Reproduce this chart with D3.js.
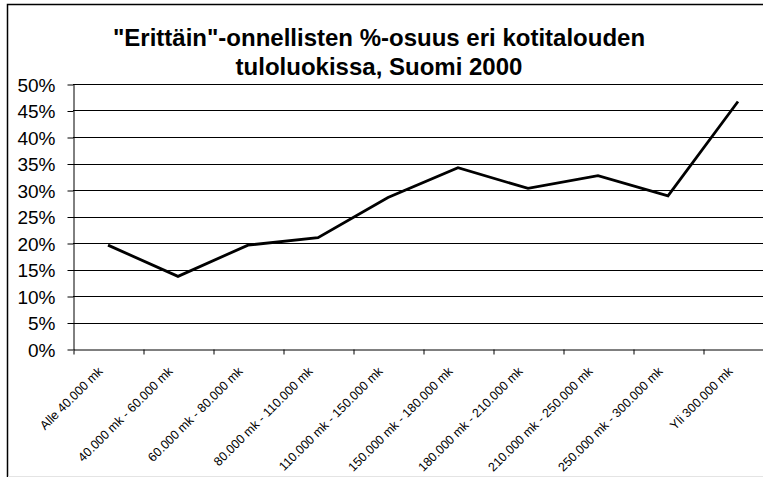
<!DOCTYPE html>
<html>
<head>
<meta charset="utf-8">
<script src="https://cdn.jsdelivr.net/npm/d3@7"></script>
<style>
  body { margin: 0; background: #fff; }
  svg { display: block; font-family: "Liberation Sans", Arial, sans-serif; }
</style>
</head>
<body>
<svg id="chart" width="763" height="477"></svg>
<script>
// income classes (household income, mk) and share of "very happy" people, %
var categories = ["Alle 40.000 mk", "40.000 mk - 60.000 mk", "60.000 mk - 80.000 mk",
  "80.000 mk - 110.000 mk", "110.000 mk - 150.000 mk", "150.000 mk - 180.000 mk",
  "180.000 mk - 210.000 mk", "210.000 mk - 250.000 mk", "250.000 mk - 300.000 mk",
  "Yli 300.000 mk"];
var shares = [19.6, 13.7, 19.6, 21.0, 28.6, 34.2, 30.3, 32.7, 28.9, 46.7];
var yTicks = [0, 5, 10, 15, 20, 25, 30, 35, 40, 45, 50];
var titleLines = ["\"Erittäin\"-onnellisten %-osuus eri kotitalouden", "tuloluokissa, Suomi 2000"];

var svg = d3.select("svg#chart"),
	margin = { top: 84, left: 73 },
	width = 700, // plot runs past the right edge of the picture
	height = 265;

// outer chart frame
svg.append("rect")
	.attr("x", 7.5).attr("y", 4.5)
	.attr("width", 800).attr("height", 500)
	.attr("fill", "#fff")
	.attr("stroke", "#000")
	.attr("stroke-width", 1.5);
svg.append("line")
	.attr("x1", 8).attr("x2", 763).attr("y1", 476.5).attr("y2", 476.5)
	.attr("stroke", "#e4e4e4");

// title
svg.append("g").selectAll("text")
	.data(titleLines)
	.enter().append("text")
	.attr("x", 379)
	.attr("y", function (d, i) { return 46 + i * 29; })
	.attr("text-anchor", "middle")
	.attr("font-size", "24px")
	.attr("font-weight", "bold")
	.attr("fill", "#000")
	.text(function (d) { return d; });

var g = svg.append("g").attr("transform", "translate(" + margin.left + "," + margin.top + ")");

var x = d3.scaleBand().domain(categories).range([0, width]);
var xEdge = d3.scaleLinear().domain([0, categories.length]).range([0, width]);
var y = d3.scaleLinear().domain([0, 50]).range([height, 0]);

// gridlines
g.append("g").selectAll("line")
	.data(yTicks.slice(1))
	.enter().append("line")
	.attr("x1", 0).attr("x2", width)
	.attr("y1", function (d) { return Math.round(y(d)) + 0.5; })
	.attr("y2", function (d) { return Math.round(y(d)) + 0.5; })
	.attr("stroke", "#000")
	.attr("stroke-width", 1);

// y axis
var yAxis = g.append("g")
	.attr("transform", "translate(0.5,0.5)")
	.call(d3.axisLeft(y).tickValues(yTicks).tickSize(6).tickSizeOuter(0)
		.tickFormat(function (d) { return d + "%"; }));
yAxis.selectAll("text").attr("font-size", "19px").attr("fill", "#000").attr("x", -18).attr("dy", "0.36em");
yAxis.selectAll("line, path").attr("stroke", "#000");
yAxis.attr("font-family", null);

// x axis, ticks between categories
var xAxis = g.append("g")
	.attr("transform", "translate(0.5," + (height + 0.5) + ")")
	.call(d3.axisBottom(xEdge).tickValues(d3.range(0, categories.length + 1)).tickSize(5).tickSizeOuter(0).tickFormat(""));
xAxis.selectAll("line, path").attr("stroke", "#000");

g.append("g").selectAll("text")
	.data(categories)
	.enter().append("text")
	.attr("transform", function (d) {
		return "translate(" + (x(d) + x.bandwidth() / 2 - 4.5) + "," + (height + 23) + ") rotate(-45)";
	})
	.attr("text-anchor", "end")
	.attr("font-size", "12.5px")
	.attr("fill", "#000")
	.text(function (d) { return d; });

// the line
var valueline = d3.line()
	.x(function (d, i) { return x(categories[i]) + x.bandwidth() / 2; })
	.y(function (d) { return y(d); });

g.append("path")
	.data([shares])
	.attr("fill", "none")
	.attr("stroke", "#000")
	.attr("stroke-width", 2.8)
	.attr("stroke-linejoin", "miter")
	.attr("d", valueline);
</script>
</body>
</html>
